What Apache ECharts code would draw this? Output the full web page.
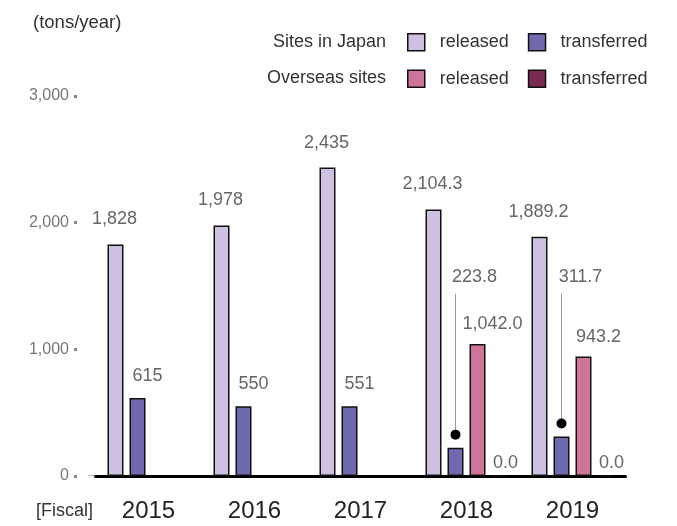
<!DOCTYPE html>
<html>
<head>
<meta charset="utf-8">
<title>Releases and transfers</title>
<script src="https://cdn.jsdelivr.net/npm/echarts@6.0.0/dist/echarts.min.js"></script>
<style>
  html, body { margin: 0; padding: 0; background: #fff; }
  #chart { width: 677px; height: 526px; }
</style>
</head>
<body>
<div id="chart"></div>
<script>
// data
const years = ['2015', '2016', '2017', '2018', '2019']
const japanReleased = [1828, 1978, 2435, 2104.3, 1889.2]
const japanTransferred = [615, 550, 551, 223.8, 311.7]
const overseasReleased = [null, null, null, 1042.0, 943.2]
const overseasTransferred = [null, null, null, 0.0, 0.0]
const decimals = [0, 0, 0, 1, 1]
// japanTransferred values that get a leader line instead of a plain label
const leaderIdx = [3, 4]
const yTicks = [0, 1000, 2000, 3000]

const FONT = 'Liberation Sans, Arial, sans-serif'
const BAR_W = 16
const BAR_GAP = '37.5%'
const LEADER_LEVEL = 1440

const fmt = (v, i) => Number(v).toLocaleString('en-US', {
  minimumFractionDigits: decimals[i],
  maximumFractionDigits: decimals[i],
})

const border = { borderColor: '#111', borderWidth: 1.5 }

function barLabel(distance, dx) {
  return {
    show: true,
    position: 'top',
    distance: distance,
    offset: [dx, 0],
    color: '#666',
    fontSize: 18,
    fontFamily: FONT,
    formatter: (p) => fmt(p.value, p.dataIndex),
  }
}

const chart = echarts.init(document.getElementById('chart'))

chart.setOption({
  animation: false,
  textStyle: { fontFamily: FONT },
  grid: { left: 95.5, right: 51.5, top: 96, bottom: 50 },
  legend: [
    {
      data: ['Sites in Japan released', 'Sites in Japan transferred'],
      left: 407, top: 33,
    },
    {
      data: ['Overseas sites released', 'Overseas sites transferred'],
      left: 407, top: 69.5,
    },
  ].map((l) => Object.assign(l, {
    orient: 'horizontal',
    padding: 0,
    icon: 'rect',
    itemWidth: 17,
    itemHeight: 17,
    itemGap: 19,
    selectedMode: false,
    itemStyle: border,
    formatter: (name) => name.split(' ').pop(),
    textStyle: { fontSize: 18, color: '#333', fontFamily: FONT, padding: [0, 0, 0, 10] },
  })),
  xAxis: {
    type: 'category',
    data: years,
    axisLine: { lineStyle: { color: '#000', width: 3 } },
    axisTick: { show: false },
    axisLabel: { fontSize: 24, color: '#222', margin: 23, fontFamily: FONT },
  },
  yAxis: {
    type: 'value',
    min: yTicks[0],
    max: yTicks[yTicks.length - 1],
    interval: 1000,
    offset: 18.5,
    axisLine: { show: false },
    axisTick: { show: true, length: 3, lineStyle: { color: '#888', width: 3 } },
    axisLabel: {
      fontSize: 16, color: '#777', margin: 8, fontFamily: FONT,
      formatter: (v) => v.toLocaleString('en-US'),
    },
    splitLine: { show: false },
  },
  graphic: [
    { type: 'text', left: 33, top: 13, style: { text: '(tons/year)', fontSize: 18.5, fill: '#333', fontFamily: FONT } },
    { type: 'text', x: 386, y: 42, style: { text: 'Sites in Japan', fontSize: 18, fill: '#333', fontFamily: FONT, align: 'right', verticalAlign: 'middle' } },
    { type: 'text', x: 386, y: 78, style: { text: 'Overseas sites', fontSize: 18, fill: '#333', fontFamily: FONT, align: 'right', verticalAlign: 'middle' } },
    { type: 'text', left: 36, top: 502, style: { text: '[Fiscal]', fontSize: 18, fill: '#333', fontFamily: FONT } },
    { type: 'line', shape: { x1: 88, y1: 475.5, x2: 97, y2: 475.5 }, style: { stroke: '#bbb', lineWidth: 1 } },
  ],
  series: [
    {
      name: 'Sites in Japan released',
      type: 'bar',
      barWidth: BAR_W,
      barGap: BAR_GAP,
      data: japanReleased,
      itemStyle: Object.assign({ color: '#cec0e0' }, border),
      label: barLabel(16, -1),
    },
    {
      name: 'Sites in Japan transferred',
      type: 'bar',
      barWidth: BAR_W,
      barGap: BAR_GAP,
      data: japanTransferred.map((v, i) =>
        leaderIdx.includes(i) ? { value: v, label: { show: false } } : v),
      itemStyle: Object.assign({ color: '#6f69ae' }, border),
      label: barLabel(13, 10),
    },
    {
      name: 'Overseas sites released',
      type: 'bar',
      barWidth: BAR_W,
      barGap: BAR_GAP,
      data: overseasReleased,
      itemStyle: Object.assign({ color: '#cf7499' }, border),
      label: barLabel(10.5, 15),
    },
    {
      name: 'Overseas sites transferred',
      type: 'bar',
      barWidth: BAR_W,
      barGap: BAR_GAP,
      data: overseasTransferred,
      itemStyle: Object.assign({ color: '#7b2a52' }, border),
      label: barLabel(3.5, 6),
    },
    {
      // leader lines for the small transferred bars
      type: 'custom',
      z: 5,
      data: leaderIdx.map((i) => [i, japanTransferred[i]]),
      renderItem: (params, api) => {
        const idx = api.value(0)
        const val = api.value(1)
        const lay = api.barLayout({ count: 4, barWidth: BAR_W, barGap: BAR_GAP })
        const pt = api.coord([idx, val])
        const x = pt[0] + lay[1].offsetCenter
        const top = api.coord([idx, LEADER_LEVEL])[1]
        const dotY = pt[1] - 13
        return {
          type: 'group',
          children: [
            { type: 'line', shape: { x1: x, y1: top, x2: x, y2: dotY }, style: { stroke: '#999', lineWidth: 1 } },
            { type: 'circle', shape: { cx: x, cy: dotY, r: 5 }, style: { fill: '#000' } },
            {
              type: 'text',
              style: {
                text: fmt(val, idx), x: x + 19, y: top - 17,
                align: 'center', verticalAlign: 'middle',
                fill: '#666', fontSize: 18, fontFamily: FONT,
              },
            },
          ],
        }
      },
    },
  ],
})
</script>
</body>
</html>
